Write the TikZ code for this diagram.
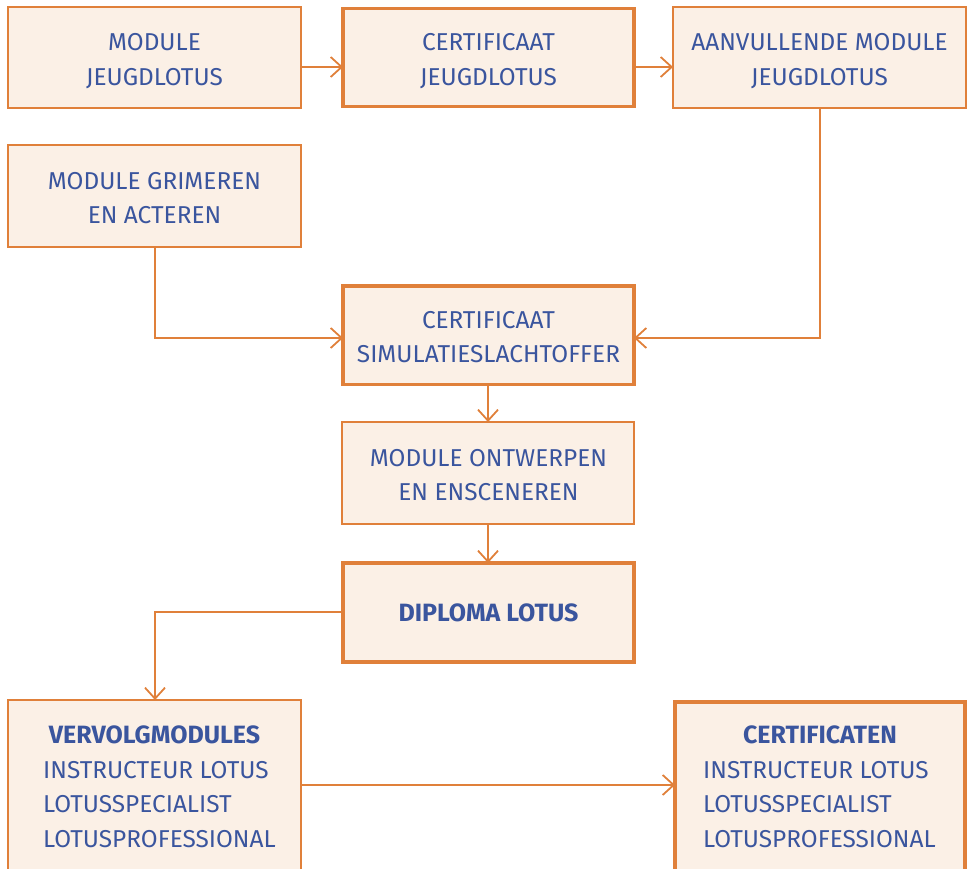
\documentclass[tikz,border=0pt]{standalone}
\usepackage{fontspec}
\setmainfont{Fira Sans}
\usetikzlibrary{arrows.meta}
\definecolor{ob}{HTML}{E0803A}
\definecolor{ofill}{HTML}{FBF0E6}
\definecolor{tb}{HTML}{3A559E}
\tikzset{
  thinbox/.style={draw=ob,fill=ofill,line width=1.5pt},
  thickbox/.style={draw=ob,fill=ofill,line width=3.5pt},
  lbl/.style={text=tb,font=\fontsize{24.4}{34.6}\selectfont,align=center,inner sep=0pt},
  hd/.style={text=tb,font=\fontsize{25}{30}\bfseries\selectfont,inner sep=0pt},
  conn/.style={draw=ob,line width=1.8pt,-{Straight Barb[length=11pt,width=20pt,line width=1.8pt]}},
}
\begin{document}
\begin{tikzpicture}[x=1pt,y=-1pt]
\useasboundingbox (0,0) rectangle (972,869);
\clip (0,0) rectangle (972,869);
% boxes
\path[thinbox] (8,7) rectangle (301,108);
\path[thickbox] (343,8.5) rectangle (634,106.5);
\path[thinbox] (673,7) rectangle (966,108);
\path[thinbox] (8,145) rectangle (301,247);
\path[thickbox] (343,286) rectangle (634,384.5);
\path[thinbox] (342,422) rectangle (634,524);
\path[thickbox] (343,563) rectangle (634,662);
\path[thinbox] (8,700) rectangle (301,900);
\path[thickbox] (675,702) rectangle (965,900);
% anchors
\coordinate (Ar) at (301,67);
\coordinate (Bl) at (343,67);
\coordinate (Br) at (634,67);
\coordinate (Cl) at (673,67);
\coordinate (Cb) at (820,108);
\coordinate (El) at (343,338);
\coordinate (Er) at (634,338);
\coordinate (Db) at (155,247);
\coordinate (Eb) at (488,385);
\coordinate (Ft) at (488,422);
\coordinate (Fb) at (488,524);
\coordinate (Gt) at (488,563);
\coordinate (Gl) at (343,612);
\coordinate (Ht) at (155,700);
\coordinate (Hr) at (301,785);
\coordinate (Il) at (675,785);
% texts
\node[lbl] (a) at (154.5,61) {MODULE\\JEUGDLOTUS};
\node[lbl] (b) at (488.5,61) {CERTIFICAAT\\JEUGDLOTUS};
\node[lbl] (c) at (819.5,61) {AANVULLENDE MODULE\\JEUGDLOTUS};
\node[lbl] (d) at (154.5,198) {MODULE GRIMEREN\\EN ACTEREN};
\node[lbl] (e) at (488.5,337) {CERTIFICAAT\\SIMULATIESLACHTOFFER};
\node[lbl] (f) at (488.5,475) {MODULE ONTWERPEN\\EN ENSCENEREN};
\node[hd] (g) at (488.5,613) {DIPLOMA LOTUS};
\node[hd] (h) at (154.5,735) {VERVOLGMODULES};
\node[lbl,align=left,anchor=west] (h2) at (43,804.5) {INSTRUCTEUR LOTUS\\LOTUSSPECIALIST\\LOTUSPROFESSIONAL};
\node[hd] (i) at (820,735) {CERTIFICATEN};
\node[lbl,align=left,anchor=west] (i2) at (703,804.5) {INSTRUCTEUR LOTUS\\LOTUSSPECIALIST\\LOTUSPROFESSIONAL};
% connectors
\draw[conn] (Ar) -- (Bl);
\draw[conn] (Br) -- (Cl);
\draw[conn] (Cb) |- (Er);
\draw[conn] (Db) |- (El);
\draw[conn] (Eb) -- (Ft);
\draw[conn] (Fb) -- (Gt);
\draw[conn] (Gl) -| (Ht);
\draw[conn] (Hr) -- (Il);
\end{tikzpicture}
\end{document}
